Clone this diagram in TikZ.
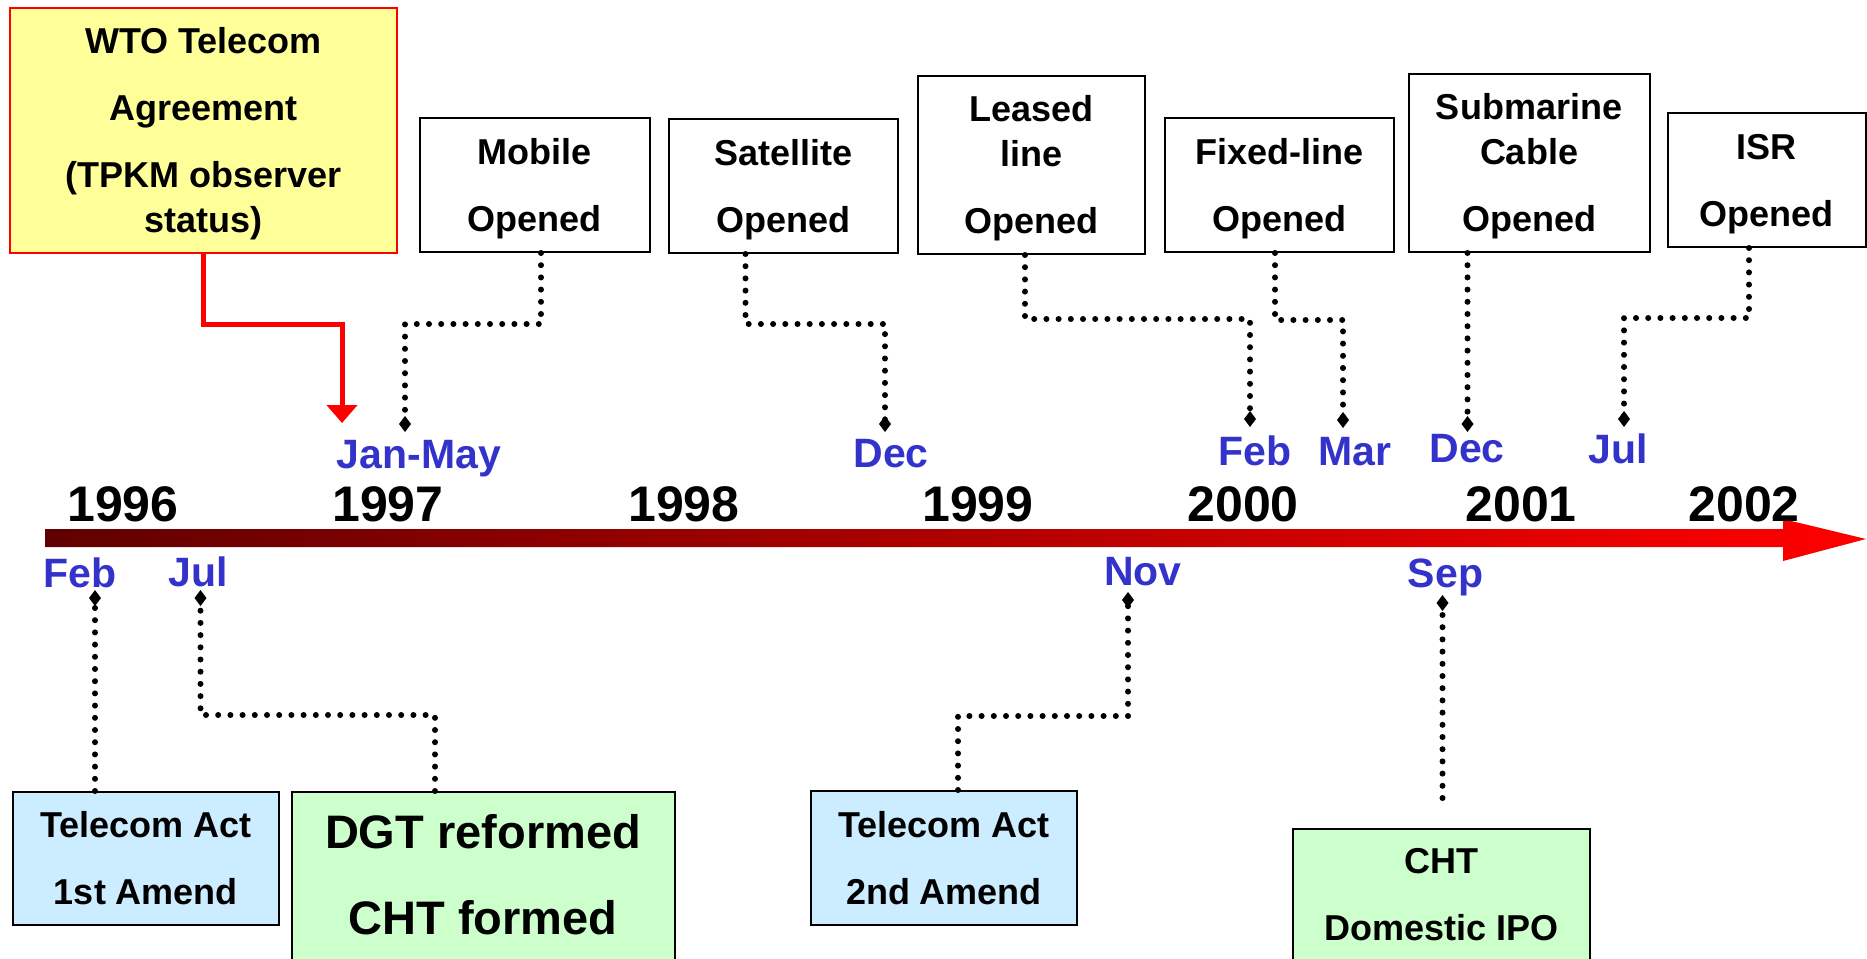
\documentclass[tikz,border=0pt]{standalone}
\usepackage{fontspec}
\setmainfont{Liberation Sans}
\usetikzlibrary{arrows.meta}
\definecolor{datecol}{HTML}{3333CC}
\definecolor{wtofill}{HTML}{FFFF99}
\definecolor{bluefill}{HTML}{CCECFF}
\definecolor{greenfill}{HTML}{CCFFCC}
\definecolor{barleft}{HTML}{600000}
\definecolor{barright}{HTML}{FF0000}
\newcommand\topstrut{\rule{0pt}{33pt}}
\newcommand\lowstrut{\rule[-4pt]{0pt}{0pt}}
\begin{document}
\begin{tikzpicture}[x=1pt,y=-1pt,
  box/.style={draw=black, line width=2pt, inner sep=0pt, align=center,
    font=\fontsize{36}{45}\selectfont\bfseries},
  bigbox/.style={box, font=\fontsize{47}{58}\selectfont\bfseries},
  yearlbl/.style={anchor=base, inner sep=0pt, font=\fontsize{50}{60}\selectfont\bfseries},
  datelbl/.style={anchor=base, inner sep=0pt, text=datecol, font=\fontsize{41}{49}\selectfont\bfseries},
  dotline/.style={line width=6pt, line cap=round, dash pattern=on 0pt off 12.2pt,
    -{Diamond[length=16pt,width=12pt]}},
  redarrow/.style={draw=red, line width=5pt, -{Triangle[length=18pt,width=30pt]}}
]
\useasboundingbox (0,0) rectangle (1867,958);

% timeline bar
\shade[left color=barleft, right color=barright]
  (45,529) -- (1783,529) -- (1783,519) -- (1866,539) -- (1783,561) -- (1783,547) -- (45,547) -- cycle;

% years
\node[yearlbl] (y1996) at (123,521) {1996};
\node[yearlbl] (y1997) at (388,521) {1997};
\node[yearlbl] (y1998) at (684,521) {1998};
\node[yearlbl] (y1999) at (978,521) {1999};
\node[yearlbl] (y2000) at (1243,521) {2000};
\node[yearlbl] (y2001) at (1521,521) {2001};
\node[yearlbl] (y2002) at (1744,521) {2002};

% upper boxes
\node[box, draw=red, fill=wtofill, minimum width=387pt, minimum height=245pt] (wto) at (203.5,130.5)
  {\topstrut WTO Telecom\\[22pt]Agreement\\[22pt](TPKM observer\\status)};
\node[box, minimum width=230pt, minimum height=134pt] (mobile) at (534.5,185) {\topstrut Mobile\\[22pt]Opened};
\node[box, minimum width=229pt, minimum height=134pt] (satellite) at (783.5,186) {\topstrut Satellite\\[22pt]Opened};
\node[box, minimum width=227pt, minimum height=178pt] (leased) at (1031.5,165) {\topstrut Leased\\line\\[22pt]Opened};
\node[box, minimum width=229pt, minimum height=134pt] (fixed) at (1279.5,185) {\topstrut Fixed-line\\[22pt]Opened};
\node[box, minimum width=241pt, minimum height=178pt] (submarine) at (1529,163) {\topstrut Submarine\\Cable\\[22pt]Opened};
\node[box, minimum width=198pt, minimum height=134pt] (isr) at (1766.5,180) {\topstrut ISR\\[22pt]Opened};

% upper date labels
\node[datelbl] (dJanMay) at (419,468) {Jan-May};
\node[datelbl] (dDec98) at (891,467) {Dec};
\node[datelbl] (dFeb00) at (1255,465) {Feb};
\node[datelbl] (dMar00) at (1355,465) {Mar};
\node[datelbl] (dDec00) at (1467,462) {Dec};
\node[datelbl] (dJul01) at (1618,463) {Jul};

% lower date labels
\node[datelbl] (dFeb96) at (80,587) {Feb};
\node[datelbl] (dJul96) at (198,586) {Jul};
\node[datelbl] (dNov99) at (1143,585) {Nov};
\node[datelbl] (dSep01) at (1445.5,587) {Sep};

% lower boxes
\node[box, fill=bluefill, minimum width=266pt, minimum height=133pt] (act1) at (146,858.5) {Telecom Act\\[22pt]1st Amend};
\node[bigbox, fill=greenfill, minimum width=383pt, minimum height=168pt] (dgt) at (483,876) {DGT reformed\\[28pt]CHT formed\lowstrut};
\node[box, fill=bluefill, minimum width=266pt, minimum height=134pt] (act2) at (944,858) {Telecom Act\\[22pt]2nd Amend};
\node[box, fill=greenfill, minimum width=297pt, minimum height=131pt] (ipo) at (1441.5,894.5) {CHT\\[22pt]Domestic IPO};

% connector end points
\coordinate (tWTO) at (342,423);
\coordinate (tJanMay) at (405,432);
\coordinate (tDec98) at (885,432);
\coordinate (tFeb00) at (1250,427);
\coordinate (tMar00) at (1343,428);
\coordinate (tDec00) at (1467.5,432);
\coordinate (tJul01) at (1624,427);
\coordinate (tFeb96) at (95,590);
\coordinate (tJul96) at (200.5,590);
\coordinate (tNov99) at (1128,592);
\coordinate (tSep01) at (1442.5,595);
\coordinate (sepEnd) at (1442.5,798);

% red arrow
\draw[redarrow] (wto.south -| 203,0) -- ++(0,70) -| (tWTO);

% upper connectors
\draw[dotline] (mobile.south -| 541,0) -- ++(0,71) -| (tJanMay);
\draw[dotline] (satellite.south -| 745.5,0) -- ++(0,70) -| (tDec98);
\draw[dotline] (leased.south -| 1025,0) -- ++(0,64) -| (tFeb00);
\draw[dotline] (fixed.south -| 1275,0) -- ++(0,67) -| (tMar00);
\draw[dotline] (submarine.south -| 1467.5,0) -- (tDec00);
\draw[dotline] (isr.south -| 1749,0) -- ++(0,70) -| (tJul01);

% lower connectors
\draw[dotline] (act1.north -| 95,0) -- (tFeb96);
\draw[dotline] (dgt.north -| 435,0) -- ++(0,-76) -| (tJul96);
\draw[dotline] (act2.north -| 958,0) -- ++(0,-74) -| (tNov99);
\draw[dotline] (sepEnd) -- (tSep01);
\end{tikzpicture}
\end{document}
